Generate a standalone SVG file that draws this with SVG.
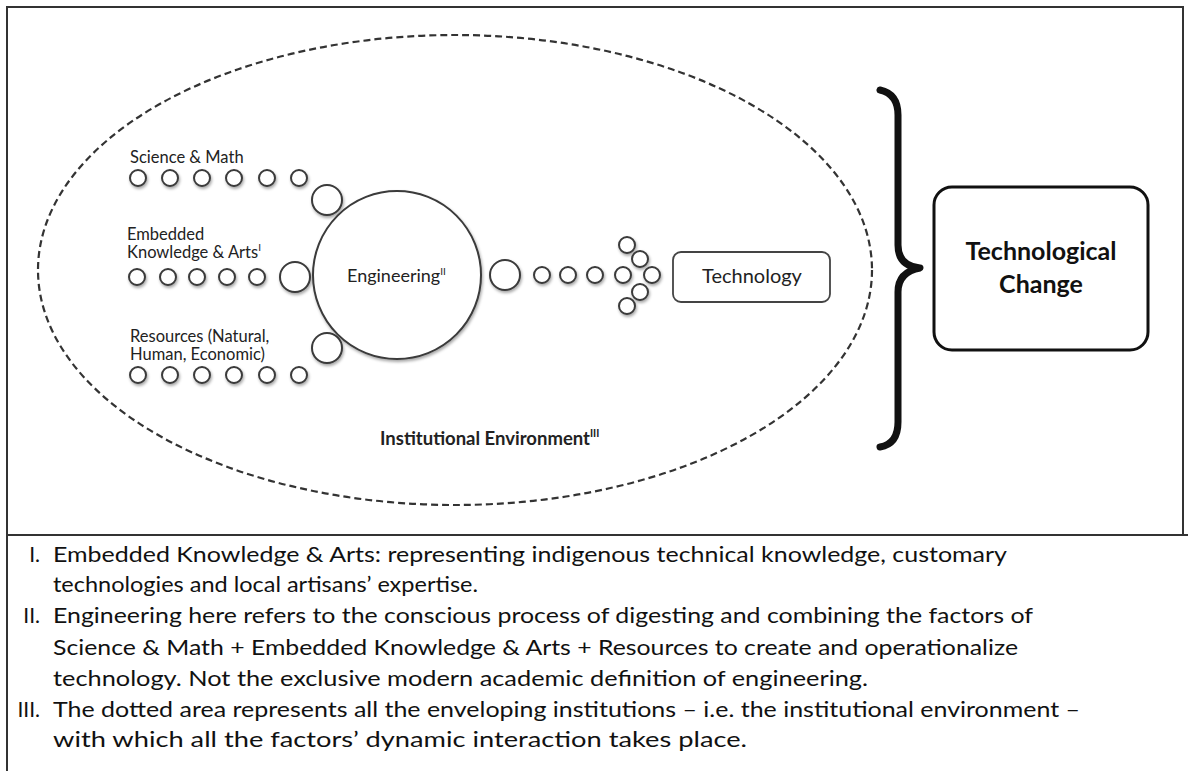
<svg xmlns="http://www.w3.org/2000/svg" width="1188" height="771" viewBox="0 0 1188 771">
<defs>
<filter id="sh" x="-50%" y="-50%" width="200%" height="200%">
<feDropShadow dx="1" dy="2" stdDeviation="1.5" flood-color="#000" flood-opacity="0.35"/>
</filter>
<style>
.c{fill:#fff;stroke:#3a3a3a;stroke-width:2;filter:url(#sh)}
text{font-family:Lato,"Open Sans","Liberation Sans",sans-serif;fill:#222}
.lbl{font-size:16.5px}
.note{font-size:21px;fill:#111}
.b{font-weight:bold}
</style>
</defs>
<rect width="1188" height="771" fill="#fff"/>
<g id="frame" fill="none" stroke="#333" stroke-width="2">
<path d="M7 771 V7 H1183 V535"/>
<line x1="7" y1="535" x2="1188" y2="535"/>
</g>
<g id="institutional-environment">
<ellipse cx="455" cy="270" rx="417" ry="235" fill="none" stroke="#333" stroke-width="2.2" stroke-dasharray="7 4"/>
<text class="b" x="380" y="445" style="font-size:18.5px">Institutional Environment<tspan style="font-size:10.5px" dy="-8">III</tspan></text>
</g>
<g id="science-math">
<text class="lbl" x="130" y="163">Science &amp; Math</text>
<circle class="c" cx="138" cy="178" r="8"/><circle class="c" cx="170" cy="178" r="8"/><circle class="c" cx="202" cy="178" r="8"/><circle class="c" cx="234" cy="178" r="8"/><circle class="c" cx="267" cy="178" r="8"/><circle class="c" cx="299" cy="178" r="8"/>
<circle class="c" cx="327" cy="200" r="15"/>
</g>
<g id="embedded-knowledge">
<text class="lbl" x="127" y="240">Embedded</text>
<text class="lbl" x="127" y="258">Knowledge &amp; Arts<tspan style="font-size:10px" dy="-7">I</tspan></text>
<circle class="c" cx="137" cy="277" r="8"/><circle class="c" cx="168" cy="277" r="8"/><circle class="c" cx="197" cy="277" r="8"/><circle class="c" cx="227" cy="277" r="8"/><circle class="c" cx="257" cy="277" r="8"/>
<circle class="c" cx="295" cy="277" r="15"/>
</g>
<g id="resources">
<text class="lbl" x="130" y="342">Resources (Natural,</text>
<text class="lbl" x="130" y="360">Human, Economic)</text>
<circle class="c" cx="138" cy="375" r="8"/><circle class="c" cx="170" cy="375" r="8"/><circle class="c" cx="202" cy="375" r="8"/><circle class="c" cx="234" cy="375" r="8"/><circle class="c" cx="267" cy="375" r="8"/><circle class="c" cx="299" cy="375" r="8"/>
<circle class="c" cx="327" cy="348" r="15"/>
</g>
<g id="engineering">
<circle class="c" cx="397" cy="275" r="84"/>
<text x="347" y="282" style="font-size:18px">Engineering<tspan style="font-size:10px" dy="-7">II</tspan></text>
</g>
<g id="connectors">
<circle class="c" cx="505" cy="275" r="15"/>
<circle class="c" cx="542" cy="275" r="8"/><circle class="c" cx="568" cy="275" r="8"/><circle class="c" cx="595" cy="275" r="8"/><circle class="c" cx="623" cy="275" r="8"/>
<circle class="c" cx="627" cy="245" r="8"/><circle class="c" cx="640" cy="259" r="8"/><circle class="c" cx="652" cy="275" r="8"/><circle class="c" cx="640" cy="292" r="8"/><circle class="c" cx="627" cy="306" r="8"/>
<path d="M880 90 Q898 94 898 115 V245 Q898 266 920 268 Q898 272 898 292 V422 Q898 444 880 447" fill="none" stroke="#111" stroke-width="7" stroke-linecap="round" stroke-linejoin="round"/>
</g>
<g id="technology">
<rect x="673" y="252" width="157" height="50" rx="8" fill="#fff" stroke="#444" stroke-width="1.8"/>
<text x="752" y="283" text-anchor="middle" style="font-size:20px">Technology</text>
</g>
<g id="technological-change">
<rect x="934" y="187" width="214" height="163" rx="18" fill="#fff" stroke="#111" stroke-width="3"/>
<text class="b" x="1041" y="260" text-anchor="middle" style="font-size:25px;fill:#111">Technological</text>
<text class="b" x="1041" y="293" text-anchor="middle" style="font-size:25px;fill:#111">Change</text>
</g>
<g id="notes">
<text class="note" x="40" y="562" text-anchor="end">I.</text>
<text class="note" x="53" y="562" textLength="954" lengthAdjust="spacingAndGlyphs">Embedded Knowledge &amp; Arts: representing indigenous technical knowledge, customary</text>
<text class="note" x="53" y="592" textLength="425" lengthAdjust="spacingAndGlyphs">technologies and local artisans’ expertise.</text>
<text class="note" x="40" y="623" text-anchor="end">II.</text>
<text class="note" x="53" y="623" textLength="980" lengthAdjust="spacingAndGlyphs">Engineering here refers to the conscious process of digesting and combining the factors of</text>
<text class="note" x="53" y="655" textLength="965" lengthAdjust="spacingAndGlyphs">Science &amp; Math + Embedded Knowledge &amp; Arts + Resources to create and operationalize</text>
<text class="note" x="53" y="686" textLength="815" lengthAdjust="spacingAndGlyphs">technology. Not the exclusive modern academic definition of engineering.</text>
<text class="note" x="40" y="717" text-anchor="end">III.</text>
<text class="note" x="53" y="717" textLength="1027" lengthAdjust="spacingAndGlyphs">The dotted area represents all the enveloping institutions – i.e. the institutional environment –</text>
<text class="note" x="53" y="747" textLength="694" lengthAdjust="spacingAndGlyphs">with which all the factors’ dynamic interaction takes place.</text>
</g>
</svg>
